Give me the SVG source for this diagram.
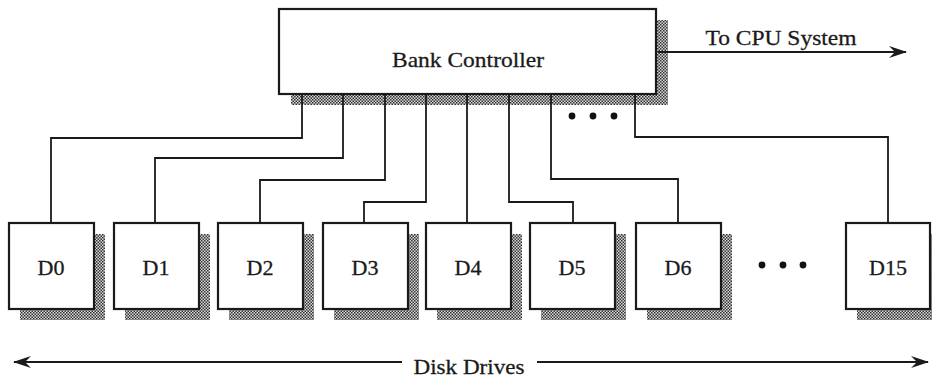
<svg xmlns="http://www.w3.org/2000/svg" width="932" height="381" viewBox="0 0 932 381">
<style>
.box{fill:#fff;stroke:#1a1a1a;stroke-width:2.2}
.sh{fill:url(#dither)}
.lbl{font-family:"Liberation Serif","Times New Roman",serif;font-size:22px;fill:#1a1a1a;stroke:#1a1a1a;stroke-width:0.3;text-anchor:middle}
.wire{fill:none;stroke:#1a1a1a;stroke-width:1.8}
.dot{fill:#111}
</style>
<defs>
<pattern id="dither" width="3" height="3" patternUnits="userSpaceOnUse">
<rect width="3" height="3" fill="#d8d8d8"/>
<rect width="1.5" height="1.5" fill="#333"/>
<rect x="1.5" y="1.5" width="1.5" height="1.5" fill="#333"/>
</pattern>
<marker id="arr" viewBox="0 0 18 12" refX="17" refY="6" markerWidth="18" markerHeight="12" markerUnits="userSpaceOnUse" orient="auto-start-reverse">
<path d="M0,0 L18,6 L0,12 L6,6 Z" fill="#1a1a1a"/>
</marker>
</defs>

<g id="bank-controller">
<rect class="sh" x="291" y="20" width="377" height="85"/>
<rect class="box" x="279" y="9" width="377" height="85"/>
<text class="lbl" x="468" y="67" textLength="152" lengthAdjust="spacingAndGlyphs">Bank Controller</text>
</g>

<g id="connectors">
<path class="wire" d="M302,94 V138 H51 V223"/>
<path class="wire" d="M343,94 V158 H155 V223"/>
<path class="wire" d="M385,94 V180 H260 V223"/>
<path class="wire" d="M426,94 V202 H364 V223"/>
<path class="wire" d="M467,94 V223"/>
<path class="wire" d="M509,94 V202 H573 V223"/>
<path class="wire" d="M551,94 V179 H678 V223"/>
<path class="wire" d="M635,94 V137 H888 V223"/>
<path class="wire" d="M658,52 H906" marker-end="url(#arr)"/>
<path class="wire" d="M402,362 H14" marker-end="url(#arr)"/>
<path class="wire" d="M537,362 H928" marker-end="url(#arr)"/>
</g>

<g id="bus-dots">
<circle class="dot" cx="572" cy="116" r="3.4"/>
<circle class="dot" cx="593" cy="116" r="3.4"/>
<circle class="dot" cx="614" cy="116" r="3.4"/>
</g>

<text id="cpu-label" class="lbl" x="781" y="45" textLength="151" lengthAdjust="spacingAndGlyphs">To CPU System</text>

<g id="D0"><rect class="sh" x="20" y="234" width="85" height="86"/><rect class="box" x="9" y="223" width="85" height="86"/><text class="lbl" x="51" y="275">D0</text></g>
<g id="D1"><rect class="sh" x="125" y="234" width="85" height="86"/><rect class="box" x="114" y="223" width="85" height="86"/><text class="lbl" x="156" y="275">D1</text></g>
<g id="D2"><rect class="sh" x="229" y="234" width="85" height="86"/><rect class="box" x="218" y="223" width="85" height="86"/><text class="lbl" x="260" y="275">D2</text></g>
<g id="D3"><rect class="sh" x="334" y="234" width="85" height="86"/><rect class="box" x="323" y="223" width="85" height="86"/><text class="lbl" x="365" y="275">D3</text></g>
<g id="D4"><rect class="sh" x="437" y="234" width="85" height="86"/><rect class="box" x="426" y="223" width="85" height="86"/><text class="lbl" x="468" y="275">D4</text></g>
<g id="D5"><rect class="sh" x="541" y="234" width="85" height="86"/><rect class="box" x="530" y="223" width="85" height="86"/><text class="lbl" x="572" y="275">D5</text></g>
<g id="D6"><rect class="sh" x="647" y="234" width="85" height="86"/><rect class="box" x="636" y="223" width="85" height="86"/><text class="lbl" x="678" y="275">D6</text></g>
<g id="D15"><rect class="sh" x="857" y="234" width="85" height="86"/><rect class="box" x="846" y="223" width="84" height="86"/><text class="lbl" x="888" y="275">D15</text></g>

<g id="drive-dots">
<circle class="dot" cx="762" cy="265" r="3.4"/>
<circle class="dot" cx="783" cy="265" r="3.4"/>
<circle class="dot" cx="803" cy="265" r="3.4"/>
</g>

<text id="disk-label" class="lbl" x="469" y="374" textLength="111" lengthAdjust="spacingAndGlyphs">Disk Drives</text>
</svg>
